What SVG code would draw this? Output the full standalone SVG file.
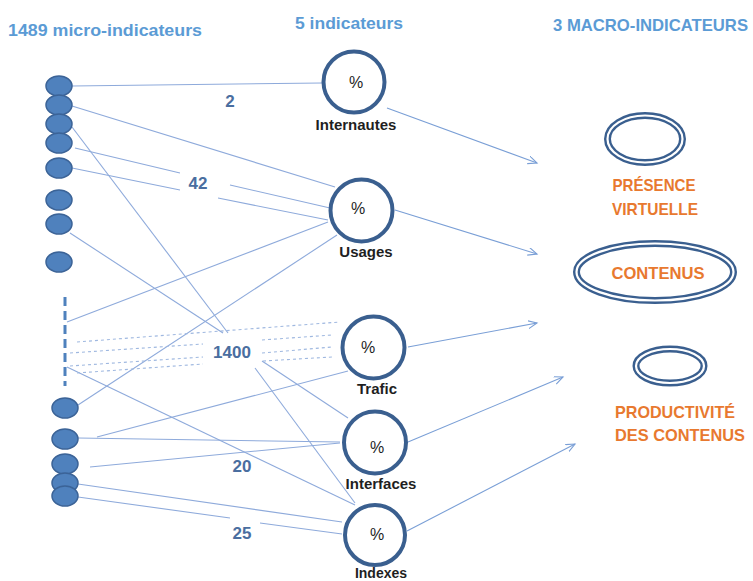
<svg xmlns="http://www.w3.org/2000/svg" width="753" height="581" viewBox="0 0 753 581">
<style>
.hdr{font-family:"Liberation Sans",Arial,sans-serif;font-size:17px;fill:#5B9BD5;font-weight:bold}
.num{font-family:"Liberation Sans",Arial,sans-serif;font-size:17px;fill:#4A6EA0;font-weight:bold;text-anchor:middle}
.lbl{font-family:"Liberation Sans",Arial,sans-serif;font-size:15px;fill:#1f1f1f;font-weight:bold;text-anchor:middle}
.pct{font-family:"Liberation Sans",Arial,sans-serif;font-size:16px;fill:#1f1f1f;text-anchor:middle}
.mac{font-family:"Liberation Sans",Arial,sans-serif;font-size:17px;fill:#E8792F;font-weight:bold;text-anchor:middle}
.c{stroke:#8EAADB;stroke-width:1.1;fill:none}
.d{stroke:#9FB8E0;stroke-width:1.1;fill:none;stroke-dasharray:3 3}
.a{stroke:#7A9FD6;stroke-width:1.1;fill:none;marker-end:url(#arr)}
.bar{stroke:#4F81BD;stroke-width:3;stroke-dasharray:9 5;fill:none}
.m{fill:#4F81BD;stroke:#3B6397;stroke-width:1.5}
.ci{fill:#fff;stroke:#3A5F8F;stroke-width:4}
.mo{fill:none;stroke:#3A5F8F;stroke-width:7}
.mi{fill:none;stroke:#fff;stroke-width:2.2}
</style>
<defs>
<marker id="arr" markerUnits="userSpaceOnUse" markerWidth="12" markerHeight="10" refX="9" refY="4" orient="auto">
<path d="M0,0 L9,4 L0,8" fill="none" stroke="#7A9FD6" stroke-width="1.1"/>
</marker>
</defs>
<rect width="753" height="581" fill="#fff"/>
<text class="hdr" x="8" y="36" textLength="194" lengthAdjust="spacingAndGlyphs">1489 micro-indicateurs</text>
<text class="hdr" x="295" y="29" textLength="108" lengthAdjust="spacingAndGlyphs">5 indicateurs</text>
<text class="hdr" x="553" y="31" textLength="195" lengthAdjust="spacingAndGlyphs">3 MACRO-INDICATEURS</text>
<g id="connectors">
<path class="c" d="M72,86 L322,83"/>
<path class="c" d="M72,106 L335,187"/>
<path class="c" d="M72,127 L228,333"/>
<path class="c" d="M75,148 L180,173 M230,185 L330,208"/>
<path class="c" d="M72,168 L180,190 M218,198 L328,220"/>
<path class="c" d="M67,322 L328,222"/>
<path class="c" d="M78,405 L337,235"/>
<path class="c" d="M70,233 L223,333"/>
<path class="c" d="M67,367 L355,505"/>
<path class="c" d="M262,361 L348,418"/>
<path class="c" d="M255,368 L355,503"/>
<path class="c" d="M97,437 L348,371"/>
<path class="c" d="M78,438 L340,442"/>
<path class="c" d="M90,467 L340,443"/>
<path class="c" d="M78,484 L342,522"/>
<path class="c" d="M78,497 L230,518 M260,523 L342,534"/>
<path class="d" d="M77,342 L340,322"/>
<path class="d" d="M70,353 L203,344 M262,340 L332,335"/>
<path class="d" d="M70,366 L203,357 M262,353 L332,347"/>
<path class="d" d="M77,373 L203,364 M263,361 L332,357"/>
<path class="a" d="M387,108 L537,163"/>
<path class="a" d="M395,210 L537,254"/>
<path class="a" d="M408,347 L537,323"/>
<path class="a" d="M408,442 L563,377"/>
<path class="a" d="M407,531 L575,444"/>
</g>
<g id="labels">
<text class="num" x="230" y="107">2</text>
<text class="num" x="198" y="189">42</text>
<text class="num" x="232" y="358">1400</text>
<text class="num" x="242" y="472">20</text>
<text class="num" x="242" y="539">25</text>
</g>
<g id="micro-bar"><path class="bar" d="M65,297 L65,386"/></g>
<g id="m1"><ellipse class="m" cx="59" cy="86" rx="13" ry="10"/></g>
<g id="m2"><ellipse class="m" cx="59" cy="105" rx="13" ry="10"/></g>
<g id="m3"><ellipse class="m" cx="59" cy="124" rx="13" ry="10"/></g>
<g id="m4"><ellipse class="m" cx="59" cy="143" rx="13" ry="10"/></g>
<g id="m5"><ellipse class="m" cx="59" cy="168" rx="13" ry="10"/></g>
<g id="m6"><ellipse class="m" cx="59" cy="200" rx="13" ry="10"/></g>
<g id="m7"><ellipse class="m" cx="59" cy="224" rx="13" ry="10"/></g>
<g id="m8"><ellipse class="m" cx="59" cy="262" rx="13" ry="10"/></g>
<g id="m9"><ellipse class="m" cx="65" cy="408" rx="13" ry="10"/></g>
<g id="m10"><ellipse class="m" cx="65" cy="439" rx="13" ry="10"/></g>
<g id="m11"><ellipse class="m" cx="65" cy="464" rx="13" ry="10"/></g>
<g id="m12"><ellipse class="m" cx="65" cy="483" rx="13" ry="10"/></g>
<g id="m13"><ellipse class="m" cx="65" cy="496" rx="13" ry="10"/></g>
<g id="internautes"><circle class="ci" cx="354" cy="82" r="30.5"/><text class="pct" x="356" y="88">%</text><text class="lbl" x="356" y="130">Internautes</text></g>
<g id="usages"><circle class="ci" cx="361.5" cy="210.5" r="31"/><text class="pct" x="358" y="214">%</text><text class="lbl" x="366" y="257">Usages</text></g>
<g id="trafic"><circle class="ci" cx="373.5" cy="347.5" r="31"/><text class="pct" x="368" y="353">%</text><text class="lbl" x="377" y="394">Trafic</text></g>
<g id="interfaces"><circle class="ci" cx="375" cy="442.5" r="31"/><text class="pct" x="377" y="453">%</text><text class="lbl" x="381" y="489">Interfaces</text></g>
<g id="indexes"><circle class="ci" cx="375" cy="535" r="30"/><text class="pct" x="377" y="540">%</text><text class="lbl" x="381" y="578" style="font-size:14px">Indexes</text></g>
<g id="presence"><ellipse class="mo" cx="645" cy="139" rx="37.5" ry="23.5"/><ellipse class="mi" cx="645" cy="139" rx="37.5" ry="23.5"/><text class="mac" x="654" y="191" textLength="83" lengthAdjust="spacingAndGlyphs">PRÉSENCE</text><text class="mac" x="655" y="215" textLength="86" lengthAdjust="spacingAndGlyphs">VIRTUELLE</text></g>
<g id="contenus"><ellipse class="mo" cx="655" cy="272" rx="78.5" ry="28.5"/><ellipse class="mi" cx="655" cy="272" rx="78.5" ry="28.5"/><text class="mac" x="658" y="279" textLength="93" lengthAdjust="spacingAndGlyphs">CONTENUS</text></g>
<g id="productivite"><ellipse class="mo" cx="670" cy="366" rx="34" ry="17"/><ellipse class="mi" cx="670" cy="366" rx="34" ry="17"/><text class="mac" x="675" y="418" textLength="120" lengthAdjust="spacingAndGlyphs">PRODUCTIVITÉ</text><text class="mac" x="680" y="441" textLength="130" lengthAdjust="spacingAndGlyphs">DES CONTENUS</text></g>
</svg>
